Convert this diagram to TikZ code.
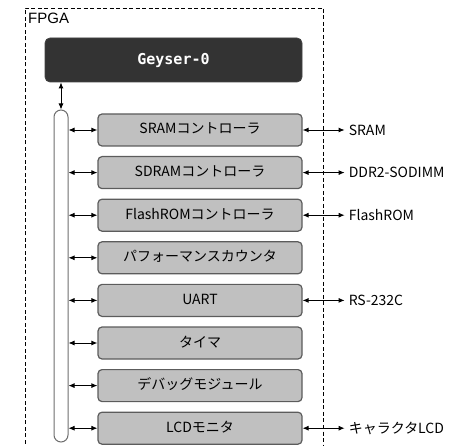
\documentclass[tikz,border=0pt]{standalone}
\usepackage{fontspec}
\setmainfont{Liberation Sans}
\newfontfamily\jpfont{Noto Sans CJK JP}
\newfontfamily\cpufont{DejaVu Sans Mono}
\usepackage{tikz}
\usetikzlibrary{arrows.meta,positioning}
\definecolor{cpudark}{HTML}{333333}
\definecolor{boxgray}{HTML}{C0C0C0}
\definecolor{boxedge}{HTML}{5C5C5C}
\definecolor{busedge}{HTML}{6E6E6E}
\tikzset{
  cpubox/.style={rectangle, rounded corners=5pt, draw=cpudark!80!gray, fill=cpudark, line width=0.8pt,
                 text=white, font=\cpufont\bfseries\fontsize{15}{15}\selectfont,
                 minimum width=257pt, minimum height=44pt},
  modbox/.style={rectangle, rounded corners=4pt, draw=boxedge, fill=boxgray, line width=1.2pt,
                 font=\jpfont\fontsize{14}{14}\selectfont, inner sep=2pt,
                 text height=11pt, text depth=3pt,
                 minimum width=204pt, minimum height=32pt},
  busbar/.style={rectangle, rounded corners=7pt, draw=busedge, fill=white, line width=1pt,
                 minimum width=14pt, minimum height=332pt, inner sep=0pt},
  extlabel/.style={font=\jpfont\fontsize{14}{14}\selectfont, inner sep=4pt},
  arr/.style={{Latex[length=6pt,width=5pt]}-{Latex[length=6pt,width=5pt]}, line width=0.9pt, draw=black},
}

\begin{document}
\begin{tikzpicture}[x=1pt, y=1pt, node distance=9.4pt]
    \useasboundingbox (0,0) rectangle (463,-446);
    % FPGA frame, open at the bottom
    \draw[dashed, dash pattern=on 4pt off 2.5pt, line width=0.7pt]
      (25,-450) -- (25,-8) -- (323,-8) -- (323,-450);
    \node[anchor=north west, inner sep=0pt, font=\fontsize{15}{15}\selectfont] (fpga) at (28,-13) {FPGA};

    \node[cpubox] (geyser) at (173.5,-60) {Geyser-0};
    \node[busbar] (bus) at (61,-276) {};

    \node[modbox] (m1) at (200,-130) {SRAMコントローラ};
    \node[modbox, below=of m1] (m2) {SDRAMコントローラ};
    \node[modbox, below=of m2] (m3) {FlashROMコントローラ};
    \node[modbox, below=of m3] (m4) {パフォーマンスカウンタ};
    \node[modbox, below=of m4] (m5) {UART};
    \node[modbox, below=of m5] (m6) {タイマ};
    \node[modbox, below=of m6] (m7) {デバッグモジュール};
    \node[modbox, below=of m7] (m8) {LCDモニタ};

    \node[extlabel, right=42pt of m1] (sram) {SRAM};
    \node[extlabel, right=42pt of m2] (ddr) {DDR2-SODIMM};
    \node[extlabel, right=42pt of m3] (flash) {FlashROM};
    \node[extlabel, right=42pt of m5] (rs) {RS-232C};
    \node[extlabel, right=42pt of m8] (lcd) {キャラクタLCD};

    \draw[arr] (bus.north |- geyser.south) -- (bus.north);
    \foreach \m in {m1,m2,m3,m4,m5,m6,m7,m8}
      \draw[arr] (bus.east |- \m.west) -- (\m.west);
    \draw[arr] (m1.east) -- (sram.west);
    \draw[arr] (m2.east) -- (ddr.west);
    \draw[arr] (m3.east) -- (flash.west);
    \draw[arr] (m5.east) -- (rs.west);
    \draw[arr] (m8.east) -- (lcd.west);
\end{tikzpicture}
\end{document}
